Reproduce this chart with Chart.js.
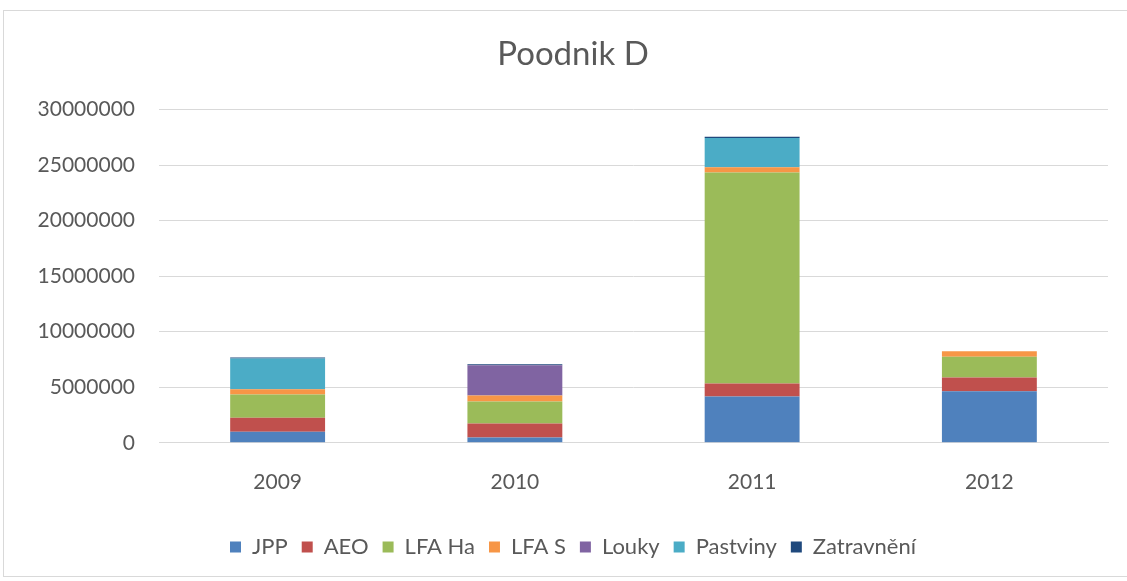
<!DOCTYPE html>
<html>
<head>
<meta charset="utf-8">
<script src="https://cdn.jsdelivr.net/npm/chart.js@4/dist/chart.umd.min.js"></script>
<style>
  html, body { margin: 0; padding: 0; background: #fff; overflow: hidden; }
  #frame {
    position: absolute; left: 3px; top: 10px;
    width: 1140px; height: 567px;
    border: 1px solid #d9d9d9; box-sizing: border-box;
  }
</style>
</head>
<body>
<div id="frame"><canvas id="chart"></canvas></div>
<script>
// --- data ---
const roky = ['2009', '2010', '2011', '2012'];
const jpp        = [1000000, 480000, 4160000, 4640000];
const aeo        = [1250000, 1250000, 1170000, 1230000];
const lfaHa      = [2100000, 1980000, 19000000, 1880000];
const lfaS       = [480000, 540000, 480000, 490000];
const louky      = [0, 2730000, 0, 0];
const pastviny   = [2760000, 0, 2630000, 0];
const zatravneni = [100000, 90000, 120000, 0];
const yTicks = [0, 5000000, 10000000, 15000000, 20000000, 25000000, 30000000];

const font = "Lato, 'Open Sans', sans-serif";
const serie = [
  { label: 'JPP', data: jpp, color: '#4F81BD' },
  { label: 'AEO', data: aeo, color: '#C0504D' },
  { label: 'LFA Ha', data: lfaHa, color: '#9BBB59' },
  { label: 'LFA S', data: lfaS, color: '#F79646' },
  { label: 'Louky', data: louky, color: '#8064A2' },
  { label: 'Pastviny', data: pastviny, color: '#4BACC6' },
  { label: 'Zatravnění', data: zatravneni, color: '#1F497D' }
];

new Chart(document.getElementById('chart'), {
  type: 'bar',
  data: {
    labels: roky,
    datasets: serie.map(s => ({
      label: s.label,
      data: s.data,
      backgroundColor: s.color,
      borderWidth: 0,
      barPercentage: 0.4,
      categoryPercentage: 1
    }))
  },
  options: {
    responsive: true,
    maintainAspectRatio: false,
    animation: false,
    layout: { padding: { left: 0, right: 0, top: 0, bottom: 8 } },
    plugins: {
      tooltip: { enabled: false },
      title: {
        display: true,
        text: 'Poodnik D',
        color: '#595959',
        font: { family: font, size: 33, weight: 'normal' },
        padding: { top: 24, bottom: 35 }
      },
      legend: {
        position: 'bottom',
        labels: {
          color: '#595959',
          font: { family: font, size: 22, lineHeight: 1 },
          boxWidth: 11,
          boxHeight: 11,
          padding: 14
        }
      }
    },
    scales: {
      x: {
        stacked: true,
        grid: { display: false, drawTicks: false },
        border: { color: '#d9d9d9' },
        ticks: { color: '#595959', font: { family: font, size: 21 }, padding: 27 }
      },
      y: {
        stacked: true,
        min: 0,
        max: 30000000,
        afterFit: scale => { scale.width = 155; },
        afterBuildTicks: scale => { scale.ticks = yTicks.map(v => ({ value: v })); },
        grid: { color: '#d9d9d9', drawTicks: false },
        border: { display: false },
        ticks: {
          color: '#595959',
          font: { family: font, size: 21 },
          padding: 24,
          callback: v => String(v)
        }
      },
      // empty axis on the right, keeps plot area narrower than title/legend
      pravy: {
        type: 'linear',
        position: 'right',
        afterFit: scale => { scale.width = 34; },
        grid: { display: false, drawTicks: false },
        border: { display: false },
        ticks: { display: false }
      }
    }
  }
});
</script>
</body>
</html>
